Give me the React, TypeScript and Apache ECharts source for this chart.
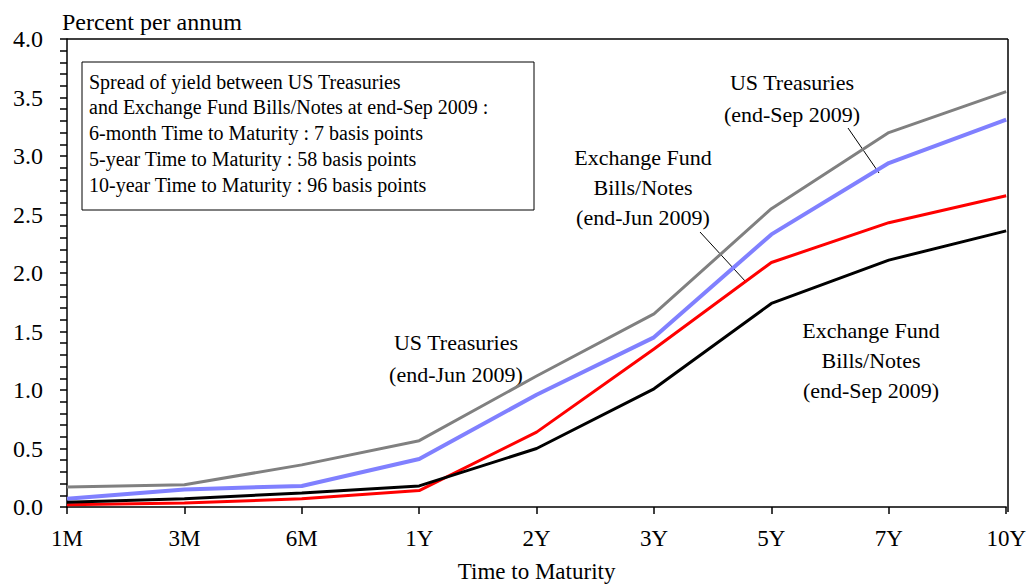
import React, { useEffect, useRef } from "react";
import * as echarts from "echarts";

const categories = ["1M", "3M", "6M", "1Y", "2Y", "3Y", "5Y", "7Y", "10Y"];
const usJun = [0.17, 0.19, 0.36, 0.567, 1.12, 1.65, 2.55, 3.2, 3.55];
const usSep = [0.07, 0.15, 0.18, 0.41, 0.96, 1.45, 2.33, 2.94, 3.31];
const efJun = [0.02, 0.035, 0.07, 0.14, 0.64, 1.35, 2.09, 2.43, 2.66];
const efSep = [0.04, 0.07, 0.12, 0.18, 0.5, 1.01, 1.74, 2.11, 2.36];
const boxLines = [
  "Spread of yield between US Treasuries",
  "and Exchange Fund Bills/Notes at end-Sep 2009 :",
  "6-month Time to Maturity : 7 basis points",
  "5-year Time to Maturity : 58 basis points",
  "10-year Time to Maturity : 96 basis points",
];

const FONT = "Liberation Serif";

export default function App() {
  const ref = useRef<HTMLDivElement>(null);
  useEffect(() => {
    const chart = echarts.init(ref.current!, null, { renderer: "svg", width: 1029, height: 588 });
    const mkLine = (name: string, data: number[], color: string, width: number) => ({
      name,
      type: "line",
      data,
      symbol: "none",
      lineStyle: { color, width },
      z: 3,
    });
    const txt = (x: number, firstCenter: number, text: string, lh: number, size = 22) => ({
      type: "text",
      x,
      y: firstCenter - lh / 2,
      style: {
        text,
        font: `${size}px "${FONT}"`,
        fill: "#000",
        textAlign: "center",
        textVerticalAlign: "top",
        lineHeight: lh,
      },
    });
    chart.setOption({
      animation: false,
      grid: { left: 67, right: 21, top: 39, bottom: 76 },
      xAxis: {
        type: "category",
        data: categories,
        boundaryGap: false,
        name: "Time to Maturity",
        nameLocation: "middle",
        nameGap: 53,
        nameTextStyle: { fontFamily: FONT, fontSize: 23, color: "#000" },
        axisLine: { lineStyle: { color: "#000", width: 1.5 } },
        axisTick: { show: true, length: 7, lineStyle: { color: "#000", width: 1.5 } },
        axisLabel: { fontFamily: FONT, fontSize: 23, color: "#000", margin: 20 },
        splitLine: { show: false },
      },
      yAxis: {
        type: "value",
        min: 0,
        max: 4,
        interval: 0.5,
        axisLine: { show: true, lineStyle: { color: "#000", width: 1.5 } },
        axisTick: { show: true, length: 7, lineStyle: { color: "#000", width: 1.5 } },
        minorTick: { show: true, splitNumber: 5, length: 7, lineStyle: { color: "#000", width: 1.5 } },
        axisLabel: {
          fontFamily: FONT,
          fontSize: 24,
          color: "#000",
          margin: 24,
          formatter: (v: number) => v.toFixed(1),
        },
        splitLine: { show: false },
      },
      series: [
        mkLine("US Treasuries (end-Jun 2009)", usJun, "#808080", 3),
        mkLine("US Treasuries (end-Sep 2009)", usSep, "#8080ff", 4),
        mkLine("Exchange Fund Bills/Notes (end-Jun 2009)", efJun, "#ff0000", 3),
        mkLine("Exchange Fund Bills/Notes (end-Sep 2009)", efSep, "#000000", 3),
      ],
      graphic: [
        { type: "line", shape: { x1: 67, y1: 39, x2: 1008, y2: 39 }, style: { stroke: "#000", lineWidth: 1.5 } },
        { type: "line", shape: { x1: 1008, y1: 39, x2: 1008, y2: 512 }, style: { stroke: "#000", lineWidth: 1.5 } },
        {
          type: "text",
          x: 62,
          y: 22,
          style: { text: "Percent per annum", font: `24px "${FONT}"`, fill: "#000", textVerticalAlign: "middle" },
        },
        {
          type: "rect",
          shape: { x: 82, y: 62, width: 452, height: 148 },
          style: { fill: "#fff", stroke: "#000", lineWidth: 1 },
        },
        {
          type: "text",
          x: 89,
          y: 81.7 - 12.9,
          style: {
            text: boxLines.join("\n"),
            font: `20px "${FONT}"`,
            fill: "#000",
            textVerticalAlign: "top",
            lineHeight: 25.8,
          },
        },
        txt(456, 342, "US Treasuries\n(end-Jun 2009)", 32),
        txt(643, 157, "Exchange Fund\nBills/Notes\n(end-Jun 2009)", 30),
        txt(792, 82, "US Treasuries\n(end-Sep 2009)", 32),
        txt(871, 330, "Exchange Fund\nBills/Notes\n(end-Sep 2009)", 30),
        { type: "line", shape: { x1: 700, y1: 232, x2: 746, y2: 282 }, style: { stroke: "#000", lineWidth: 1 } },
        { type: "line", shape: { x1: 848, y1: 128, x2: 879, y2: 173 }, style: { stroke: "#000", lineWidth: 1 } },
      ],
    });
    return () => chart.dispose();
  }, []);
  return (
    <div
      ref={ref}
      style={{ position: "absolute", left: 0, top: 0, width: 1029, height: 588, overflow: "hidden" }}
    />
  );
}
